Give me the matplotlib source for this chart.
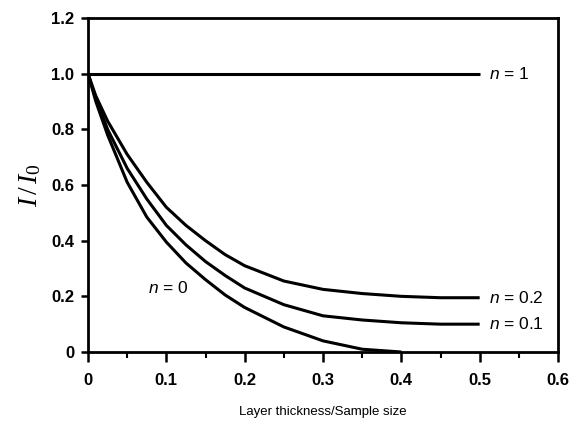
import matplotlib
matplotlib.use("Agg")
import matplotlib.pyplot as plt

x_n0 = [0, 0.01, 0.025, 0.05, 0.075, 0.1, 0.125, 0.15, 0.175, 0.2, 0.25, 0.3, 0.35, 0.4]
y_n0 = [1.0, 0.90, 0.78, 0.61, 0.485, 0.395, 0.32, 0.26, 0.205, 0.16, 0.09, 0.04, 0.01, 0.0]

x_n01 = [0, 0.01, 0.025, 0.05, 0.075, 0.1, 0.125, 0.15, 0.175, 0.2, 0.25, 0.3, 0.35, 0.4, 0.45, 0.5]
y_n01 = [1.0, 0.91, 0.80, 0.66, 0.55, 0.455, 0.385, 0.325, 0.275, 0.23, 0.17, 0.13, 0.115, 0.105, 0.10, 0.10]

x_n02 = [0, 0.01, 0.025, 0.05, 0.075, 0.1, 0.125, 0.15, 0.175, 0.2, 0.25, 0.3, 0.35, 0.4, 0.45, 0.5]
y_n02 = [1.0, 0.92, 0.83, 0.71, 0.61, 0.52, 0.455, 0.40, 0.35, 0.31, 0.255, 0.225, 0.21, 0.20, 0.195, 0.195]

x_n1 = [0, 0.5]
y_n1 = [1.0, 1.0]

xticks = [0, 0.1, 0.2, 0.3, 0.4, 0.5, 0.6]
xticklabels = ["0", "0.1", "0.2", "0.3", "0.4", "0.5", "0.6"]
yticks = [0, 0.2, 0.4, 0.6, 0.8, 1.0, 1.2]
yticklabels = ["0", "0.2", "0.4", "0.6", "0.8", "1.0", "1.2"]

labels = [(r"$\mathsf{n}$ = 1", 0.512, 1.0), (r"$\mathsf{n}$ = 0.2", 0.512, 0.195),
          (r"$\mathsf{n}$ = 0.1", 0.512, 0.10), (r"$\mathsf{n}$ = 0", 0.077, 0.23)]

plt.rcParams['font.family'] = ['Liberation Sans', 'DejaVu Sans']
plt.rcParams['mathtext.fontset'] = 'custom'
plt.rcParams['mathtext.it'] = 'Liberation Serif:italic'
plt.rcParams['mathtext.rm'] = 'Liberation Serif'
plt.rcParams['mathtext.sf'] = 'Liberation Sans:italic'

fig = plt.figure(figsize=(5.83, 4.26), dpi=100)
ax = fig.add_axes([88/583, 74/426, 470/583, 334/426])

lw = 2.2
for xs, ys in [(x_n0, y_n0), (x_n01, y_n01), (x_n02, y_n02), (x_n1, y_n1)]:
    ax.plot(xs, ys, color='black', lw=lw, solid_capstyle='butt')

for txt, lx, ly in labels:
    ax.text(lx, ly, txt, fontsize=12.5, va='center', ha='left')

ax.set_xlim(0, 0.6)
ax.set_ylim(0, 1.2)
ax.set_xticks(xticks)
ax.set_xticklabels(xticklabels, fontsize=12, fontweight='bold')
ax.set_yticks(yticks)
ax.set_yticklabels(yticklabels, fontsize=12, fontweight='bold')
ax.set_xticks([0.05, 0.15, 0.25, 0.35, 0.45, 0.55], minor=True)
ax.tick_params(axis='x', which='major', direction='out', length=7, width=1.8, pad=8)
ax.tick_params(axis='y', which='major', direction='out', length=5, width=1.8, pad=5)
ax.tick_params(axis='x', which='minor', direction='out', length=4, width=1.5)
for s in ax.spines.values():
    s.set_linewidth(2.0)

ax.set_xlabel("Layer thickness/Sample size", fontsize=9.5, labelpad=13)
ax.set_ylabel(r"$I\,/\,I_0$", fontsize=20, labelpad=6)

fig.savefig("out.png", dpi=100)
